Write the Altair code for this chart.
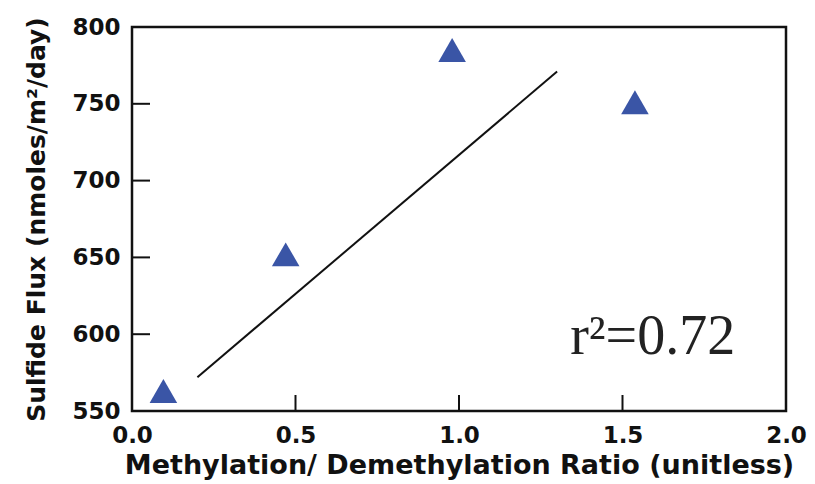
import altair as alt
import pandas as pd

# Data
ratio = [0.096, 0.47, 0.979, 1.538]
flux = [563, 652, 785, 751]

fit_x = [0.2, 1.3]
fit_y = [572, 771]

x_ticks = [0.0, 0.5, 1.0, 1.5, 2.0]
y_ticks = [550, 600, 650, 700, 750, 800]

ann_text = ["r²=0.72"]
ann_x = [1.34]
ann_y = [587]

W, H = 654, 384

pts = pd.DataFrame({"ratio": ratio, "flux": flux})
fit = pd.DataFrame({"ratio": fit_x, "flux": fit_y})
xt = pd.DataFrame({"v": x_ticks})
yt = pd.DataFrame({"v": y_ticks})
ann = pd.DataFrame({"t": ann_text, "x": ann_x, "y": ann_y})

xscale = alt.Scale(domain=[0, 2], nice=False, zero=False)
yscale = alt.Scale(domain=[550, 800], nice=False, zero=False)

FONT = "DejaVu Sans"

xaxis = alt.Axis(values=x_ticks, format=".1f", domain=False, ticks=False, grid=False,
                 labelFont=FONT, labelFontWeight="bold", labelFontSize=23, labelColor="#111",
                 labelPadding=13, title="Methylation/ Demethylation Ratio (unitless)",
                 titleFont=FONT, titleFontWeight="bold", titleFontSize=27, titleColor="#111",
                 titlePadding=5, labelFlush=False)
yaxis = alt.Axis(values=y_ticks, format="d", domain=False, ticks=False, grid=False,
                 labelFont=FONT, labelFontWeight="bold", labelFontSize=23, labelColor="#111",
                 labelPadding=12, title="Sulfide Flux (nmoles/m²/day)",
                 titleFont=FONT, titleFontWeight="bold", titleFontSize=25, titleColor="#111",
                 titlePadding=22, labelFlush=False)

points = alt.Chart(pts).mark_point(shape="triangle-up", filled=True, size=760,
                                    color="#3A55A6", opacity=1).encode(
    x=alt.X("ratio:Q", scale=xscale, axis=xaxis),
    y=alt.Y("flux:Q", scale=yscale, axis=yaxis),
)

line = alt.Chart(fit).mark_line(color="#111", strokeWidth=2).encode(
    x=alt.X("ratio:Q", scale=xscale),
    y=alt.Y("flux:Q", scale=yscale),
)

xticks = alt.Chart(xt).mark_rule(color="#111", strokeWidth=2).encode(
    x=alt.X("v:Q", scale=xscale),
    y=alt.value(H),
    y2=alt.value(H - 16),
)
yticks = alt.Chart(yt).mark_rule(color="#111", strokeWidth=2).encode(
    y=alt.Y("v:Q", scale=yscale),
    x=alt.value(0),
    x2=alt.value(18),
)

text = alt.Chart(ann).mark_text(font="Liberation Serif", fontSize=56, align="left",
                                baseline="alphabetic", color="#222").encode(
    x=alt.X("x:Q", scale=xscale),
    y=alt.Y("y:Q", scale=yscale),
    text="t:N",
)

chart = alt.layer(line, xticks, yticks, points, text).properties(
    width=W, height=H,
    autosize=alt.AutoSizeParams(type="none"),
    padding={"left": 124, "top": 19, "right": 21, "bottom": 72},
    background="white",
).configure_view(stroke="#111", strokeWidth=2.5)

chart.save("out.html", embed_options={"renderer": "svg", "actions": False})
